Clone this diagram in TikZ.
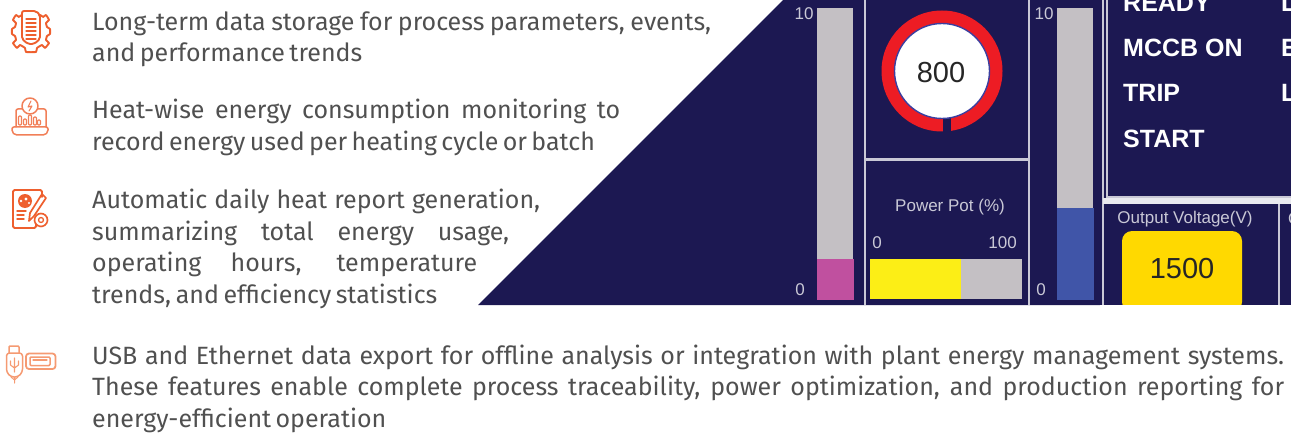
\documentclass[tikz,border=0pt]{standalone}
\usepackage{fontspec}
\setmainfont{Fira Sans}
\newfontfamily\hmi{Liberation Sans}
\definecolor{navy}{HTML}{1C1852}
\definecolor{frameline}{HTML}{C9C8D6}
\definecolor{bargray}{HTML}{C4C0C4}
\definecolor{barmag}{HTML}{C0509F}
\definecolor{barblue}{HTML}{4055A8}
\definecolor{gred}{HTML}{ED1C24}
\definecolor{gblue}{HTML}{3B3FA0}
\definecolor{yelA}{HTML}{FCEE16}
\definecolor{yelB}{HTML}{FFD900}
\definecolor{orng}{HTML}{EE5F2E}
\definecolor{orngl}{HTML}{F59A72}
\definecolor{txt}{HTML}{505050}
\tikzset{
  body/.style={anchor=base west,inner sep=0pt,text=txt,font=\fontsize{25}{25}\selectfont},
  hmitxt/.style={inner sep=0pt,text=frameline,font=\hmi\fontsize{17}{17}\selectfont},
  hmibig/.style={inner sep=0pt,text=black!85,font=\hmi\fontsize{29}{29}\selectfont},
  status/.style={anchor=base west,inner sep=0pt,text=white,font=\hmi\bfseries\fontsize{25}{25}\selectfont},
  frm/.style={draw=frameline,line width=2pt},
  ico/.style={draw=orng,line width=1.9pt,line join=round,line cap=round,fill=none},
  icol/.style={draw=orngl,line width=1.5pt,line join=round,line cap=round,fill=none}
}
\newcommand{\bodyline}[4]{\node[body] (#1) at (92,#2) {\makebox[#3pt][s]{#4}};}
\begin{document}
\begin{tikzpicture}[x=1pt,y=-1pt]
\useasboundingbox (0,0) rectangle (1291,433);
\clip (0,0) rectangle (1291,433);
% panel
\fill[navy] (478,305) -- (783,0) -- (1291,0) -- (1291,305) -- cycle;
% bars
\fill[bargray] (817,8) rectangle (853,259);
\fill[barmag] (817,259) rectangle (854,300);
\fill[bargray] (1057,8) rectangle (1093,208);
\fill[barblue] (1057,208) rectangle (1094,300);
% frames
\draw[frm] (865,0) -- (865,305);
\draw[frm] (1029,0) -- (1029,305);
\draw[frm,line width=3pt] (865,160) -- (1029,160);
\draw[frm] (1103,0) -- (1103,305);
\draw[frm,line width=1.6pt] (1107,0) -- (1107,197) -- (1291,197);
\fill[frameline!40!white] (1103,198) rectangle (1291,204);
\draw[frm] (1279,204) -- (1279,305);
% gauge
\fill[gred] (942,71) circle (60.5);
\fill[navy] (943,118) rectangle (951,135);
\fill[white,draw=gblue,line width=1.4pt] (942,71) circle (47.5);
\node[hmibig] (gaugeval) at (941,73) {800};
% power pot
\node[hmitxt] (pottitle) at (950,207) {Power Pot (\%)};
\node[hmitxt] (potlow) at (877,243) {0};
\node[hmitxt,anchor=east] (pothigh) at (1017,243) {100};
\fill[yelA] (870,259) rectangle (961,299);
\fill[bargray] (961,259) rectangle (1022,299);
% bar scales
\node[hmitxt] (aten) at (804,14) {10};
\node[hmitxt] (azero) at (800,290) {0};
\node[hmitxt] (bten) at (1044,14) {10};
\node[hmitxt] (bzero) at (1041,290) {0};
% status
\node[status] (ready) at (1123,12) {READY};
\node[status] (mccb) at (1123,57) {MCCB ON};
\node[status] (trip) at (1123,102) {TRIP};
\node[status] (start) at (1123,148) {START};
\node[status] (ra) at (1281,12) {L};
\node[status] (rb) at (1281,57) {E};
\node[status] (rc) at (1281,102) {L};
% output voltage
\node[hmitxt] (ovt) at (1185,219) {Output Voltage(V)};
\node[hmitxt,anchor=west] (ovn) at (1288,219) {O};
\fill[yelB,rounded corners=10pt] (1122,231) rectangle (1242,312);
\fill[white] (1100,305) rectangle (1291,320);
\node[hmibig] (ovv) at (1182,269) {1500};
% text
\bodyline{l1}{31}{619}{Long-term data storage for process parameters, events,}
\bodyline{l2}{62}{267}{and performance trends}
\bodyline{l3}{119}{528}{Heat-wise energy consumption monitoring to}
\bodyline{l4}{151}{502}{record energy used per heating cycle or batch}
\bodyline{l5}{208}{448}{Automatic daily heat report generation,}
\bodyline{l6}{240}{417}{summarizing total energy usage,}
\bodyline{l7}{271}{385}{operating hours, temperature}
\bodyline{l8}{303}{344}{trends, and efficiency statistics}
\bodyline{l9}{364}{1192}{USB and Ethernet data export for offline analysis or integration with plant energy management systems.}
\bodyline{l10}{395}{1192}{These features enable complete process traceability, power optimization, and production reporting for}
\bodyline{l11}{427}{291}{energy-efficient operation}
% icon 1 : gear + document
\begin{scope}[shift={(31,31)}]
\draw[ico] plot[smooth cycle,tension=.25] coordinates {
 (-9,-16) (-12,-14) (-15,-16) (-18,-11) (-15,-8) (-16,-4) (-19,-2) (-19,3) (-16,5) (-15,9) (-18,12) (-14,17) (-11,14) (-6,17) (-5,21) (5,21) (6,17) (11,14) (14,17) (18,12) (15,9) (16,5) (19,3) (19,-2) (16,-4) (15,-8) (18,-11) (15,-16) (12,-14) (9,-16)};
\draw[ico,fill=white,rounded corners=2pt] (-9,4) -- (-9,-20) -- (5,-20) -- (9,-16) -- (9,4) -- (9,8) -- (3,13) -- (-3,13) -- (-9,8) -- cycle;
\foreach \yy in {-12,-8,-4,0,4,8} \draw[ico,line width=1.2pt] (-5,\yy) -- (5,\yy);
\end{scope}
% icon 2 : laptop
\begin{scope}[icol/.append style={draw=orng!80!white}]
\draw[icol,rounded corners=2pt] (16,127) -- (16,109) -- (22,109);
\draw[icol,rounded corners=2pt] (38,109) -- (46,109) -- (46,127);
\draw[icol,rounded corners=2pt] (12,127) -- (48,127) -- (48,132) -- (45,135) -- (15,135) -- (12,132) -- cycle;
\draw[icol] (30,106) circle (8);
\draw[icol,line width=1.1pt] (31,101) -- (28,107) -- (32,106) -- (29,111);
\foreach \xa/\ya in {20/116,25/119,30/115,35/117,39/120}
  \draw[icol,line width=1.2pt,rounded corners=1pt] (\xa-1.5,125) rectangle (\xa+1.5,\ya);
\end{scope}
% icon 3 : report
\draw[ico,rounded corners=1.5pt] (36,219) -- (36,228) -- (13,228) -- (13,190) -- (42,190) -- (42,197);
\fill[orng] (25,201) circle (7);
\fill[white] (26,199) circle (1.6) (21,201) circle (1.4) (29,203) circle (1.2);
\draw[ico,line width=1.4pt] (17,211) -- (26,211) (17,215) -- (24,215) (17,219) -- (24,219);
\draw[ico,line width=1.7pt] (42,194) -- (46,198) -- (34,216) -- (29,221) -- (30,213) -- cycle;
\draw[ico,fill=white,line width=1.7pt,dash pattern=on 2pt off .6pt] (41,220) circle (6.5);
\draw[ico,line width=1.3pt] (41,220) circle (2.5);
% icon 4 : usb
\draw[icol,rounded corners=1pt] (9,353) -- (9,346) -- (19,346) -- (19,353);
\draw[icol,rounded corners=3pt] (6.5,353) -- (22.5,353) -- (22.5,372) -- (18,377) -- (11,377) -- (6.5,372) -- cycle;
\draw[icol,line width=1pt] (14.5,383) -- (14.5,377) (11,377) -- (14.5,380) -- (18,377);
\draw[icol,line width=1.1pt] (14.5,372) -- (14.5,358) (10.5,361) -- (10.5,365) -- (14.5,368) -- (18.5,365) -- (18.5,361);
\draw[icol,line width=1.8pt,rounded corners=3pt] (26,353.5) rectangle (55.5,369);
\draw[icol,rounded corners=1pt] (30,357) rectangle (50,365.5);
\draw[icol,line width=1.1pt] (33,360) -- (47,360);
\end{tikzpicture}
\end{document}
